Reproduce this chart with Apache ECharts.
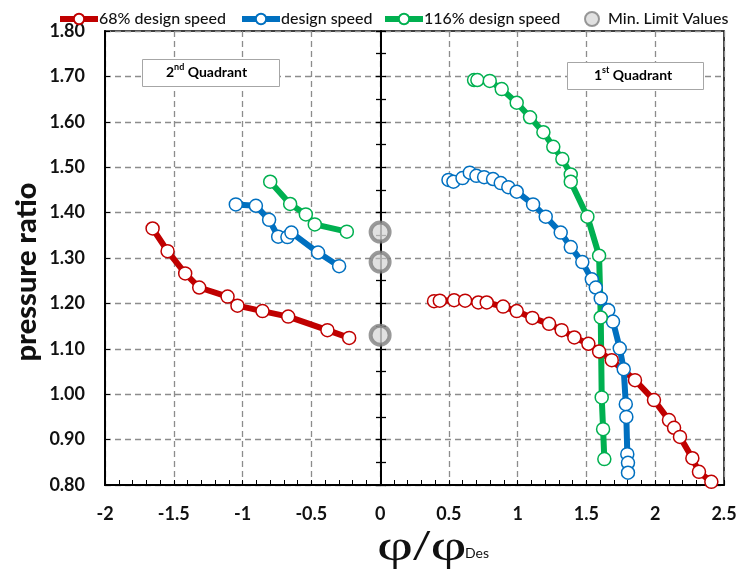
<!DOCTYPE html>
<html>
<head>
<meta charset="utf-8">
<script src="https://cdn.jsdelivr.net/npm/echarts@6/dist/echarts.min.js"></script>
<style>html,body{margin:0;padding:0;background:#fff}#c{width:740px;height:571px}</style>
</head>
<body>
<div id="c"></div>
<script>
// ---- data ----
const xTicks = [-2, -1.5, -1, -0.5, 0, 0.5, 1, 1.5, 2, 2.5];
const yTicks = [0.8, 0.9, 1.0, 1.1, 1.2, 1.3, 1.4, 1.5, 1.6, 1.7, 1.8];

const red2X = [-1.654, -1.545, -1.417, -1.315, -1.109, -1.037, -0.855, -0.668, -0.383, -0.225];
const red2Y = [1.365, 1.315, 1.266, 1.235, 1.215, 1.195, 1.183, 1.171, 1.141, 1.124];
const red1X = [0.392, 0.434, 0.538, 0.618, 0.714, 0.775, 0.894, 0.993, 1.107, 1.228, 1.320, 1.412, 1.514, 1.592, 1.684, 1.853, 1.991, 2.100, 2.137, 2.180, 2.270, 2.318, 2.408];
const red1Y = [1.205, 1.206, 1.207, 1.206, 1.202, 1.202, 1.193, 1.183, 1.168, 1.155, 1.141, 1.125, 1.111, 1.094, 1.075, 1.031, 0.987, 0.943, 0.926, 0.906, 0.859, 0.829, 0.807];

const blue2X = [-1.049, -0.903, -0.807, -0.741, -0.674, -0.645, -0.451, -0.298];
const blue2Y = [1.418, 1.415, 1.384, 1.347, 1.346, 1.356, 1.312, 1.282];
const blue1X = [0.497, 0.533, 0.599, 0.652, 0.700, 0.756, 0.821, 0.877, 0.932, 0.993, 1.112, 1.204, 1.313, 1.386, 1.470, 1.539, 1.568, 1.604, 1.659, 1.693, 1.742, 1.771, 1.786, 1.790, 1.797, 1.802, 1.802];
const blue1Y = [1.472, 1.468, 1.476, 1.488, 1.481, 1.478, 1.474, 1.465, 1.456, 1.446, 1.418, 1.391, 1.356, 1.324, 1.291, 1.253, 1.235, 1.211, 1.185, 1.160, 1.101, 1.055, 0.978, 0.950, 0.868, 0.849, 0.827];

const green2X = [-0.799, -0.654, -0.540, -0.475, -0.242];
const green2Y = [1.468, 1.419, 1.396, 1.374, 1.358];
const green1X = [0.683, 0.707, 0.797, 0.884, 0.993, 1.090, 1.187, 1.259, 1.325, 1.386, 1.386, 1.507, 1.592, 1.604, 1.611, 1.621, 1.630];
const green1Y = [1.692, 1.692, 1.690, 1.672, 1.642, 1.610, 1.577, 1.545, 1.518, 1.484, 1.468, 1.391, 1.305, 1.169, 0.993, 0.923, 0.857];

const limitX = [0, 0, 0];
const limitY = [1.357, 1.291, 1.130];

const names = ['68% design speed', 'design speed', '116% design speed', 'Min. Limit Values'];
const colors = ['#C00000', '#0070C0', '#00B050'];

// ---- build ----
const zip = (xs, ys) => xs.map((x, i) => [x, ys[i]]);
const FONT = 'Lato';

function lineSeries(name, color, xs, ys) {
  return {
    name: name, type: 'line', data: zip(xs, ys),
    xAxisIndex: 0, yAxisIndex: 0,
    symbol: 'circle', symbolSize: 13,
    lineStyle: { color: color, width: 6 },
    itemStyle: { color: '#fff', borderColor: color, borderWidth: 1.5 },
    emphasis: { disabled: true },
    clip: false, animation: false, z: 3
  };
}

const series = [
  lineSeries(names[0], colors[0], red2X, red2Y),
  lineSeries(names[0], colors[0], red1X, red1Y),
  lineSeries(names[1], colors[1], blue2X, blue2Y),
  lineSeries(names[1], colors[1], blue1X, blue1Y),
  lineSeries(names[2], colors[2], green2X, green2Y),
  lineSeries(names[2], colors[2], green1X, green1Y),
  {
    name: names[3], type: 'scatter', data: zip(limitX, limitY),
    symbol: 'circle', symbolSize: 19,
    itemStyle: { color: '#D9D9D9', borderColor: '#7F7F7F', borderWidth: 4 },
    emphasis: { disabled: true }, clip: false, animation: false, z: 4
  }
];

function leg(name, left, iconW) {
  return {
    data: [name], left: left, top: 6, itemWidth: iconW, itemHeight: 13,
    lineStyle: { width: 6 },
    textStyle: { fontFamily: FONT, fontSize: 16, fontWeight: 500, color: '#111', padding: [0, 0, 0, -4] },
    selectedMode: false
  };
}

const chart = echarts.init(document.getElementById('c'), null, { renderer: 'canvas' });
chart.setOption({
  animation: false,
  backgroundColor: '#fff',
  legend: [
    leg(names[0], 52, 38),
    leg(names[1], 234, 38),
    leg(names[2], 377, 38),
    { data: [{ name: names[3], icon: 'circle' }], left: 579, top: 6, itemWidth: 14, itemHeight: 14,
      textStyle: { fontFamily: FONT, fontSize: 16, fontWeight: 500, color: '#111', padding: [0, 0, 0, 4] }, selectedMode: false }
  ],
  grid: { left: 105, right: 16, top: 31, bottom: 86, show: true, borderColor: '#000', borderWidth: 1.5, backgroundColor: 'transparent' },
  xAxis: [{
    type: 'value', min: xTicks[0], max: xTicks[xTicks.length - 1], interval: 0.5,
    axisLine: { onZero: false, lineStyle: { color: '#000', width: 2 } },
    axisTick: { show: true, inside: true, length: 5, lineStyle: { color: '#000' } },
    minorTick: { show: true, splitNumber: 5, length: 5, lineStyle: { color: '#000' } },
    axisLabel: { fontFamily: FONT, fontWeight: 'bold', fontSize: 18, color: '#111', margin: 20,
      formatter: v => String(v) },
    splitLine: { show: true, lineStyle: { color: '#8C8C8C', type: [6, 4], width: 1.3 } }
  }],
  yAxis: [{
    type: 'value', min: yTicks[0], max: yTicks[yTicks.length - 1], interval: 0.1,
    axisLine: { show: true, onZero: false, lineStyle: { color: '#000', width: 2 } },
    axisTick: { show: true, inside: true, length: 5, lineStyle: { color: '#000' } },
    axisLabel: { fontFamily: FONT, fontWeight: 'bold', fontSize: 18, color: '#111', margin: 20,
      formatter: v => v.toFixed(2) },
    splitLine: { show: true, lineStyle: { color: '#8C8C8C', type: [6, 4], width: 1.3 } }
  }, {
    type: 'value', min: 0.8, max: 1.8, interval: 0.05, position: 'left', offset: -276,
    axisLine: { show: true, onZero: false, lineStyle: { color: '#000', width: 2 } },
    axisTick: { show: true, inside: false, length: 5, lineStyle: { color: '#000', width: 1.3 } },
    axisLabel: { show: false }, splitLine: { show: false }
  }, {
    type: 'value', min: 0.8, max: 1.8, interval: 0.05, position: 'left', offset: -276,
    axisLine: { show: false },
    axisTick: { show: true, inside: true, length: 5, lineStyle: { color: '#000', width: 1.3 } },
    axisLabel: { show: false }, splitLine: { show: false }
  }],
  graphic: [
    { type: 'text', x: 27, y: 272, rotation: Math.PI / 2, z: 11,
      style: { text: 'pressure ratio', fontFamily: FONT, fontWeight: 900, fontSize: 29, fill: '#111',
        align: 'center', verticalAlign: 'middle' } },
    { type: 'rect', left: 142, top: 59, shape: { width: 137, height: 27 },
      style: { fill: '#fff', stroke: '#A6A6A6', lineWidth: 1 }, z: 10 },
    { type: 'text', top: 63, z: 11, left: 166,
      style: { text: '{a|2}{s|nd}{a| Quadrant}',
        rich: { a: { fontFamily: FONT, fontWeight: 'bold', fontSize: 14, color: '#111', lineHeight: 18 },
                s: { fontFamily: FONT, fontWeight: 'bold', fontSize: 9, color: '#111', verticalAlign: 'top', lineHeight: 18, padding: [0, 0, 6, 0] } } } },
    { type: 'rect', left: 567, top: 62, shape: { width: 136, height: 27 },
      style: { fill: '#fff', stroke: '#A6A6A6', lineWidth: 1 }, z: 10 },
    { type: 'text', top: 66, z: 11, left: 594,
      style: { text: '{a|1}{s|st}{a| Quadrant}',
        rich: { a: { fontFamily: FONT, fontWeight: 'bold', fontSize: 14, color: '#111', lineHeight: 18 },
                s: { fontFamily: FONT, fontWeight: 'bold', fontSize: 9, color: '#111', verticalAlign: 'top', lineHeight: 18, padding: [0, 0, 6, 0] } } } },
    { type: 'text', x: 377, y: 526, scaleX: 1.42, z: 11,
      style: { text: 'φ/φ', fontFamily: 'Liberation Serif', fontSize: 44, fill: '#111' } },
    { type: 'text', x: 465, y: 546, z: 11,
      style: { text: 'Des', fontFamily: FONT, fontSize: 14, fill: '#111', letterSpacing: -0.5 } }
  ],
  series: series
});
</script>
</body>
</html>
